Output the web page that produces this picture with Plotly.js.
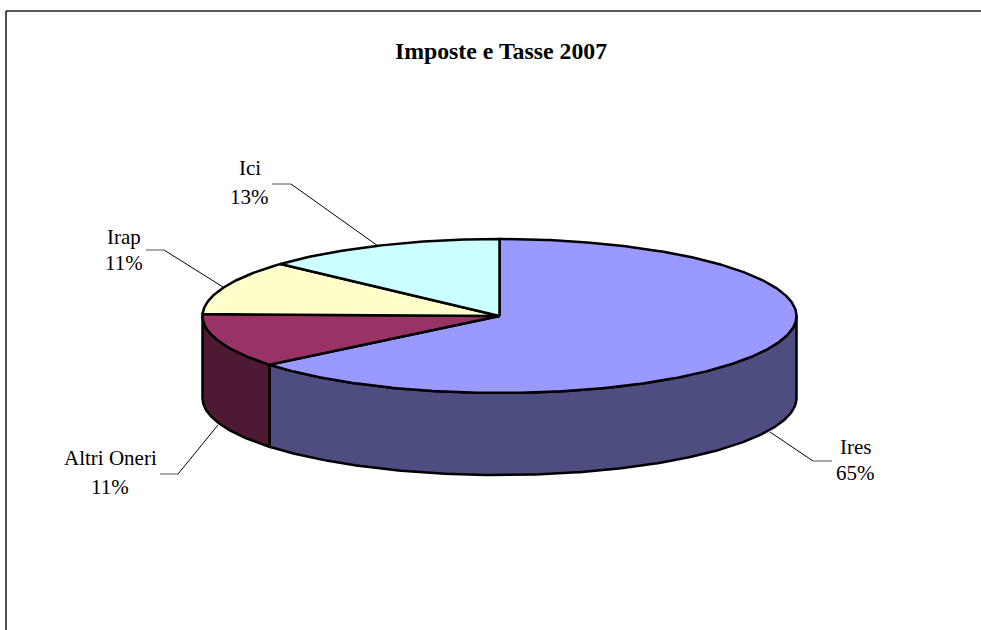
<!DOCTYPE html>
<html>
<head>
<meta charset="utf-8">
<script src="https://cdn.plot.ly/plotly-3.0.1.min.js"></script>
<style>html,body{margin:0;padding:0;background:#fff}#chart{width:981px;height:630px}</style>
</head>
<body>
<div id="chart"></div>
<script>
var categories = ['Ires', 'Altri Oneri', 'Irap', 'Ici'];
var labelPercent = [65, 11, 11, 13];
var sliceShares = [64.1, 11.3, 11.4, 13.2];
var topColors = ['#9999FF', '#993366', '#FFFFCC', '#CCFFFF'];
var sideColors = ['#4D4D80', '#4D1933', '#808066', '#668080'];
var W = 981, H = 630;
var cx = 499.5, cy = 316, rx = 297, ry = 77, depthPx = 82;
var depth = depthPx / ry;
var labelPos = [[855, 447, 473], [110, 458, 487], [124, 237, 263], [250, 168, 197]];
var leaders = [
  [[770, 432], [813, 461], [832, 461]],
  [[218, 425], [178, 474], [160, 474]],
  [[223, 287], [164, 250], [146, 250]],
  [[378, 246], [291, 184], [272, 184]]
];
function pt(t, drop) { return [Math.sin(t), Math.cos(t) - (drop || 0)]; }
function arc(t0, t1, drop) {
  var n = Math.max(2, Math.ceil(Math.abs(t1 - t0) / 0.01)), out = [];
  for (var i = 0; i <= n; i++) out.push(pt(t0 + (t1 - t0) * i / n, drop));
  return out;
}
function poly(points, color, lw) {
  return {
    type: 'scatter', mode: 'lines', fill: 'toself', fillcolor: color,
    x: points.map(function (p) { return p[0]; }),
    y: points.map(function (p) { return p[1]; }),
    line: { color: '#000', width: lw || 2.5, shape: 'linear' },
    hoverinfo: 'skip', showlegend: false
  };
}
var total = sliceShares.reduce(function (a, b) { return a + b; }, 0);
var edges = [0];
sliceShares.forEach(function (s) { edges.push(edges[edges.length - 1] + s / total * 2 * Math.PI); });
var traces = [];
// front wall, right to left along the visible lower half
for (var i = 0; i < categories.length; i++) {
  var a = Math.max(edges[i], Math.PI / 2), b = Math.min(edges[i + 1], 3 * Math.PI / 2);
  if (b > a) traces.push(poly(arc(a, b, 0).concat(arc(b, a, depth)).concat([pt(a, 0)]), sideColors[i]));
}
// top faces
for (var j = 0; j < categories.length; j++) {
  traces.push(poly([[0, 0]].concat(arc(edges[j], edges[j + 1], 0)).concat([[0, 0]]), topColors[j]));
}
var textFont = { family: '"Liberation Serif", "Times New Roman", serif', size: 21, color: '#000' };
var annotations = [];
categories.forEach(function (c, k) {
  annotations.push({ xref: 'paper', yref: 'paper', x: labelPos[k][0] / W, y: 1 - labelPos[k][1] / H, text: c,
    showarrow: false, xanchor: 'center', yanchor: 'middle', font: textFont });
  annotations.push({ xref: 'paper', yref: 'paper', x: labelPos[k][0] / W, y: 1 - labelPos[k][2] / H, text: labelPercent[k] + '%',
    showarrow: false, xanchor: 'center', yanchor: 'middle', font: textFont });
});
var shapes = [];
function seg(p, q, color, w) {
  shapes.push({ type: 'line', xref: 'paper', yref: 'paper', x0: p[0] / W, y0: 1 - p[1] / H, x1: q[0] / W, y1: 1 - q[1] / H,
    line: { color: color, width: w } });
}
leaders.forEach(function (l) {
  seg(l[0], l[1], '#000', 1);
  seg(l[1], l[2], '#555', 1);
});
seg([6, 11], [W, 11], '#222', 1.6);
seg([6, 11], [6, H], '#222', 1.6);
var layout = {
  width: W, height: H, autosize: false,
  margin: { l: 0, r: 0, t: 0, b: 0, pad: 0 },
  paper_bgcolor: '#fff', plot_bgcolor: '#fff',
  title: { text: '<b>Imposte e Tasse 2007</b>', x: 501 / W, y: 1 - 51 / H, xref: 'paper', yref: 'paper',
    xanchor: 'center', yanchor: 'middle', font: { family: textFont.family, size: 23.8, color: '#000' } },
  xaxis: { visible: false, fixedrange: true, range: [-cx / rx, (W - cx) / rx] },
  yaxis: { visible: false, fixedrange: true, range: [-(H - cy) / ry, cy / ry] },
  shapes: shapes, annotations: annotations, showlegend: false, hovermode: false
};
Plotly.newPlot('chart', traces, layout, { displayModeBar: false, staticPlot: true });
</script>
</body>
</html>
